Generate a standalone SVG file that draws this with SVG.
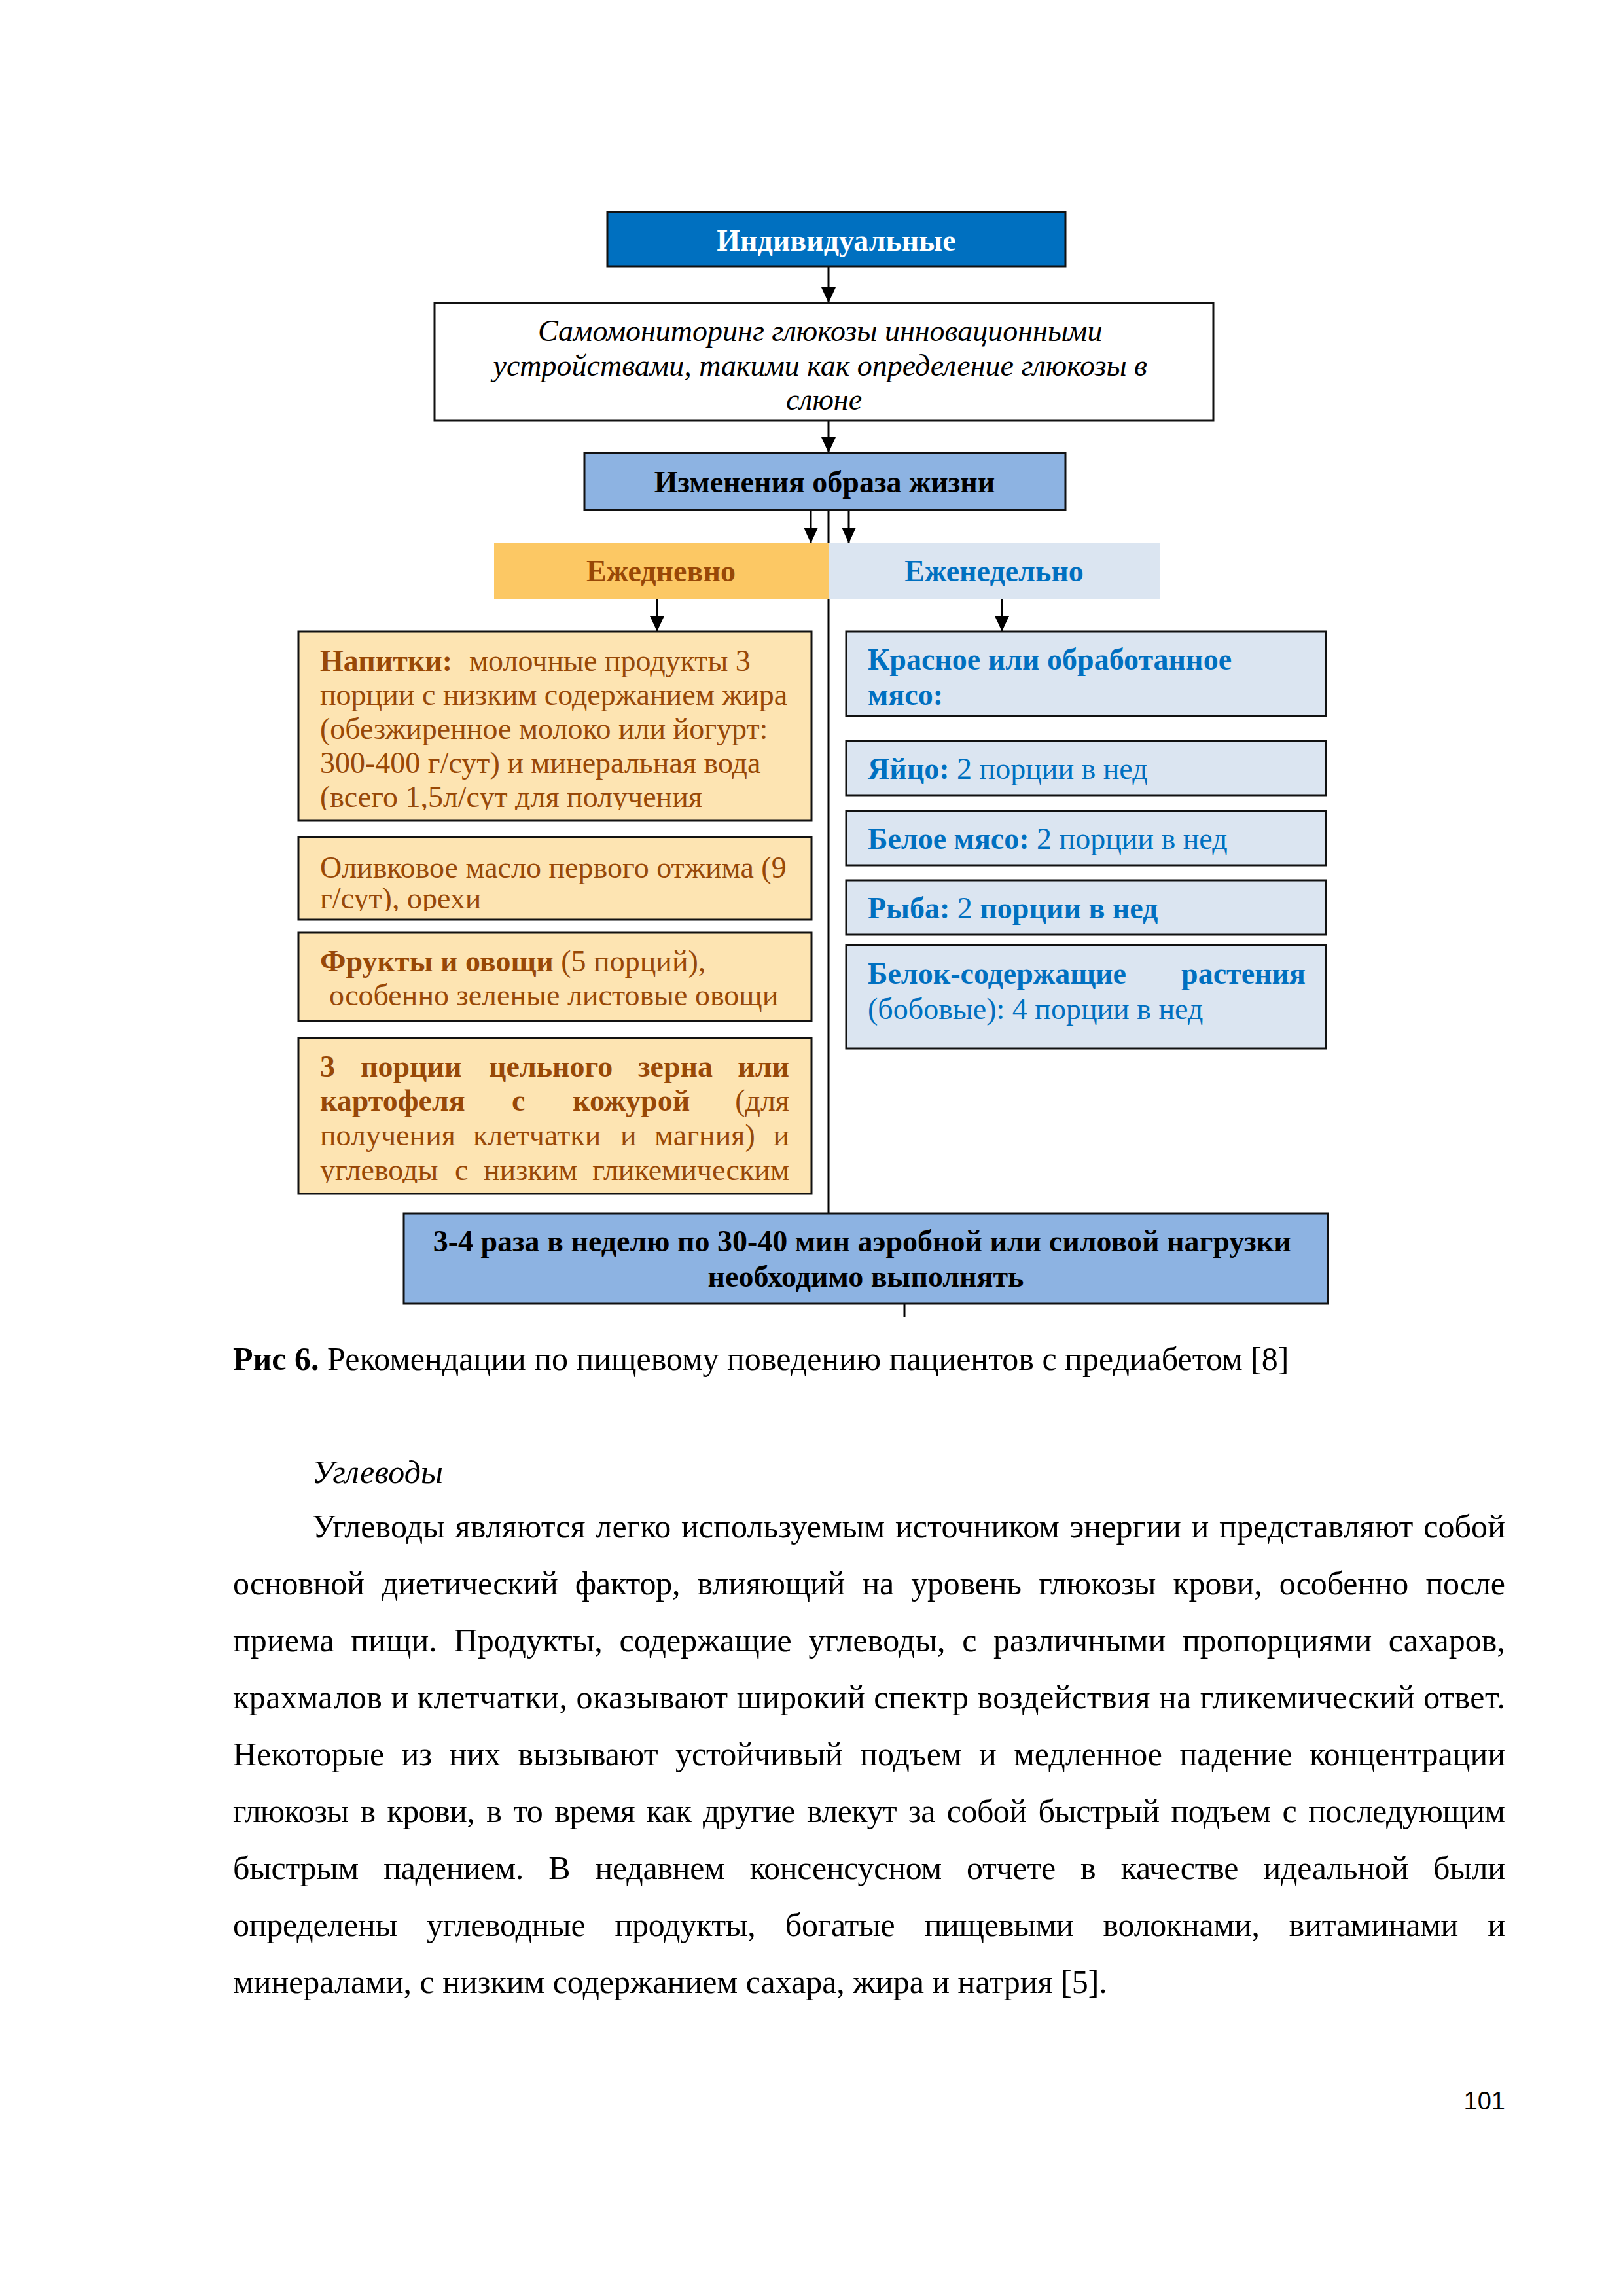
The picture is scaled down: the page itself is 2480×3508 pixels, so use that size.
<svg xmlns="http://www.w3.org/2000/svg" width="2480" height="3508" viewBox="0 0 2480 3508">
<style>
text{font-family:"Liberation Serif","Times New Roman",serif;}
.box{stroke:#111;stroke-width:3;}
.t46{font-size:46px;}
.b{font-weight:bold;}
.brown{fill:#984807;}
.blue{fill:#0070C0;}
.body{font-size:50px;fill:#000;}
.conn{stroke:#000;stroke-width:3;fill:none;}
</style>
<defs>
<marker id="ah" markerUnits="userSpaceOnUse" markerWidth="26" markerHeight="24" refX="24" refY="11" orient="auto">
<path d="M0,0 L24,11 L0,22 z" fill="#000"/>
</marker>
<clipPath id="cNap"><rect x="456" y="965" width="784" height="273"/></clipPath>
<clipPath id="cOl"><rect x="456" y="1279" width="784" height="113"/></clipPath>
<clipPath id="cGr"><rect x="456" y="1586" width="784" height="222"/></clipPath>
</defs>
<rect width="2480" height="3508" fill="#fff"/>

<g id="connectors">
<path class="conn" d="M1266,779 L1266,1854"/>
<path class="conn" d="M1266,407 L1266,463" marker-end="url(#ah)"/>
<path class="conn" d="M1266,642 L1266,692" marker-end="url(#ah)"/>
<path class="conn" d="M1239,779 L1239,830" marker-end="url(#ah)"/>
<path class="conn" d="M1297,779 L1297,830" marker-end="url(#ah)"/>
<path class="conn" d="M1004,915 L1004,965" marker-end="url(#ah)"/>
<path class="conn" d="M1531,915 L1531,965" marker-end="url(#ah)"/>
<path class="conn" d="M1382,1992 L1382,2012"/>
</g>

<g id="n-individual">
<rect class="box" x="928" y="324" width="700" height="83" fill="#0070C0"/>
<text class="t46 b" x="1278" y="383" text-anchor="middle" fill="#fff">Индивидуальные</text>
</g>

<g id="n-selfmon">
<rect class="box" x="664" y="463" width="1190" height="179" fill="#fff"/>
<text class="t46" font-style="italic" text-anchor="middle" fill="#000">
<tspan x="1259" y="521">Самомониторинг глюкозы инновационными</tspan>
<tspan x="1259" y="574">устройствами, такими как определение глюкозы в</tspan>
<tspan x="1259" y="626">слюне</tspan>
</text>
</g>

<g id="n-lifestyle">
<rect class="box" x="893" y="692" width="735" height="87" fill="#8DB3E2"/>
<text class="t46 b" x="1260" y="752" text-anchor="middle" fill="#000">Изменения образа жизни</text>
</g>

<g id="n-daily">
<rect x="755" y="830" width="511" height="85" fill="#FCC864"/>
<text class="t46 b brown" x="1010" y="888" text-anchor="middle">Ежедневно</text>
</g>

<g id="n-weekly">
<rect x="1266" y="830" width="507" height="85" fill="#DBE5F1"/>
<text class="t46 b blue" x="1519" y="888" text-anchor="middle">Еженедельно</text>
</g>

<g id="n-drinks">
<rect class="box" x="456" y="965" width="784" height="289" fill="#FDE4B2"/>
<g clip-path="url(#cNap)">
<text class="t46 brown">
<tspan x="489" y="1025" font-weight="bold">Напитки:</tspan><tspan x="717" y="1025">молочные продукты 3</tspan>
<tspan x="489" y="1077">порции с низким содержанием жира</tspan>
<tspan x="489" y="1129">(обезжиренное молоко или йогурт:</tspan>
<tspan x="489" y="1181">300-400 г/сут) и минеральная вода</tspan>
<tspan x="489" y="1233">(всего 1,5л/сут для получения</tspan>
</text>
</g>
</g>

<g id="n-olive">
<rect class="box" x="456" y="1279" width="784" height="126" fill="#FDE4B2"/>
<g clip-path="url(#cOl)">
<text class="t46 brown">
<tspan x="489" y="1341">Оливковое масло первого отжима (9</tspan>
<tspan x="489" y="1388">г/сут), орехи</tspan>
</text>
</g>
</g>

<g id="n-fruits">
<rect class="box" x="456" y="1425" width="784" height="135" fill="#FDE4B2"/>
<text class="t46 brown">
<tspan x="489" y="1484" font-weight="bold">Фрукты и овощи</tspan><tspan> (5 порций),</tspan>
<tspan x="503" y="1536">особенно зеленые листовые овощи</tspan>
</text>
</g>

<g id="n-grains">
<rect class="box" x="456" y="1586" width="784" height="238" fill="#FDE4B2"/>
<g clip-path="url(#cGr)">
<text class="t46 brown b" y="1645"><tspan x="489">3</tspan><tspan x="551">порции</tspan><tspan x="747">цельного</tspan><tspan x="975">зерна</tspan></text>
<text class="t46 brown b" x="1206" y="1645" text-anchor="end">или</text>
<text class="t46 brown b" y="1697"><tspan x="489">картофеля</tspan><tspan x="782">с</tspan><tspan x="875">кожурой</tspan></text>
<text class="t46 brown" x="1206" y="1697" text-anchor="end">(для</text>
<text class="t46 brown" y="1750"><tspan x="489">получения</tspan><tspan x="723">клетчатки</tspan><tspan x="948">и</tspan><tspan x="1000">магния)</tspan></text>
<text class="t46 brown" x="1206" y="1750" text-anchor="end">и</text>
<text class="t46 brown" y="1803"><tspan x="489">углеводы</tspan><tspan x="695">с</tspan><tspan x="739">низким</tspan></text>
<text class="t46 brown" x="1206" y="1803" text-anchor="end">гликемическим</text>
</g>
</g>

<g id="n-redmeat">
<rect class="box" x="1293" y="965" width="733" height="129" fill="#DBE5F1"/>
<text class="t46 b blue">
<tspan x="1326" y="1023">Красное или обработанное</tspan>
<tspan x="1326" y="1077">мясо:</tspan>
</text>
</g>

<g id="n-egg">
<rect class="box" x="1293" y="1132" width="733" height="83" fill="#DBE5F1"/>
<text class="t46 blue" x="1326" y="1190"><tspan font-weight="bold">Яйцо:</tspan> 2 порции в нед</text>
</g>

<g id="n-whitemeat">
<rect class="box" x="1293" y="1239" width="733" height="83" fill="#DBE5F1"/>
<text class="t46 blue" x="1326" y="1297"><tspan font-weight="bold">Белое мясо:</tspan> 2 порции в нед</text>
</g>

<g id="n-fish">
<rect class="box" x="1293" y="1345" width="733" height="83" fill="#DBE5F1"/>
<text class="t46 blue" x="1326" y="1403"><tspan font-weight="bold">Рыба:</tspan> 2 <tspan font-weight="bold">порции в нед</tspan></text>
</g>

<g id="n-plants">
<rect class="box" x="1293" y="1444" width="733" height="158" fill="#DBE5F1"/>
<text class="t46 b blue" x="1326" y="1503">Белок-содержащие</text>
<text class="t46 b blue" x="1995" y="1503" text-anchor="end">растения</text>
<text class="t46 blue" x="1326" y="1557">(бобовые): 4 порции в нед</text>
</g>

<g id="n-exercise">
<rect class="box" x="617" y="1854" width="1412" height="138" fill="#8DB3E2"/>
<text class="t46 b" text-anchor="middle" fill="#000">
<tspan x="1323" y="1912">3-4 раза в неделю по 30-40 мин аэробной или силовой нагрузки</tspan>
<tspan x="1323" y="1966">необходимо выполнять</tspan>
</text>
</g>

<g id="page-text">
<text class="body" x="356" y="2093"><tspan font-weight="bold">Рис 6.</tspan> Рекомендации по пищевому поведению пациентов с предиабетом [8]</text>
<text class="body" x="477" y="2266" font-style="italic">Углеводы</text>
<text class="body" x="477" y="2349" textLength="1823" lengthAdjust="spacing" word-spacing="3">Углеводы являются легко используемым источником энергии и представляют собой</text>
<text class="body" x="356" y="2436" textLength="1944" lengthAdjust="spacing" word-spacing="14">основной диетический фактор, влияющий на уровень глюкозы крови, особенно после</text>
<text class="body" x="356" y="2523" textLength="1944" lengthAdjust="spacing" word-spacing="13">приема пищи. Продукты, содержащие углеводы, с различными пропорциями сахаров,</text>
<text class="body" x="356" y="2610" textLength="1944" lengthAdjust="spacing">крахмалов и клетчатки, оказывают широкий спектр воздействия на гликемический ответ.</text>
<text class="body" x="356" y="2697" textLength="1944" lengthAdjust="spacing" word-spacing="14">Некоторые из них вызывают устойчивый подъем и медленное падение концентрации</text>
<text class="body" x="356" y="2784" textLength="1944" lengthAdjust="spacing" word-spacing="6">глюкозы в крови, в то время как другие влекут за собой быстрый подъем с последующим</text>
<text class="body" x="356" y="2871" textLength="1944" lengthAdjust="spacing" word-spacing="26">быстрым падением. В недавнем консенсусном отчете в качестве идеальной были</text>
<text class="body" x="356" y="2958" textLength="1944" lengthAdjust="spacing" word-spacing="33">определены углеводные продукты, богатые пищевыми волокнами, витаминами и</text>
<text class="body" x="356" y="3045">минералами, с низким содержанием сахара, жира и натрия [5].</text>
<text x="2300" y="3223" style="font-family:'Liberation Sans',Arial,sans-serif" font-size="38" text-anchor="end" fill="#000">101</text>
</g>
</svg>
